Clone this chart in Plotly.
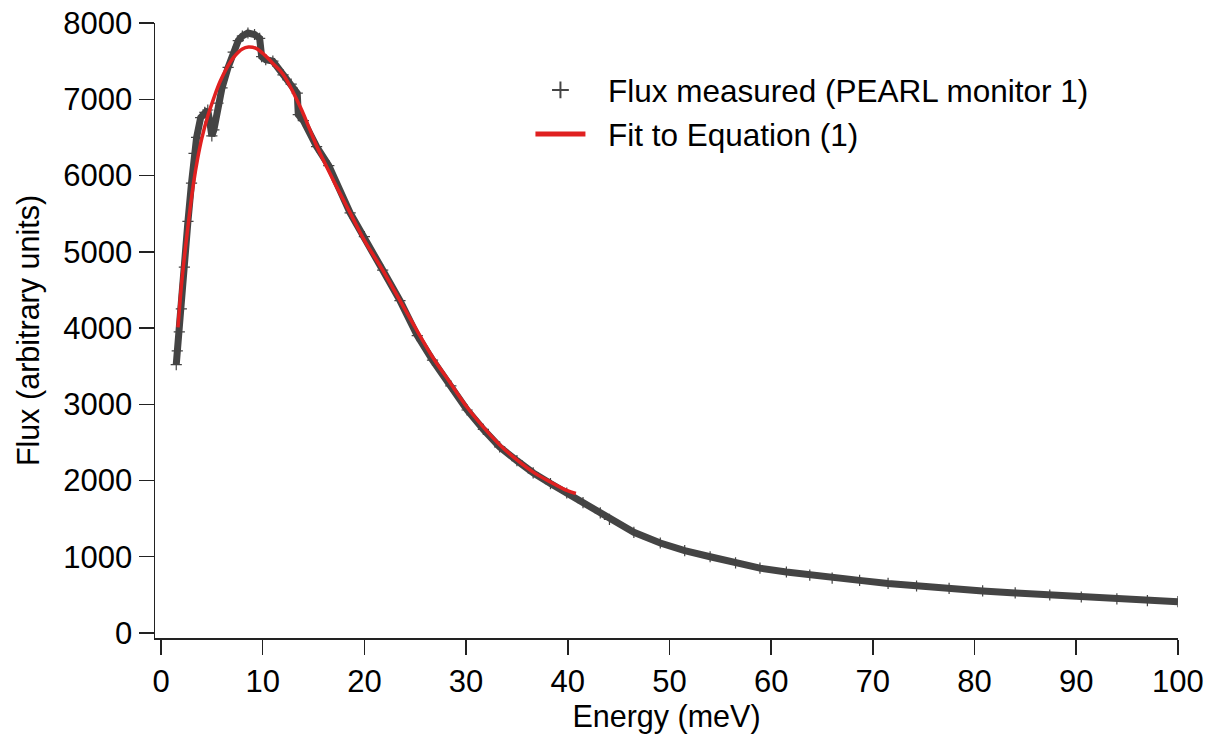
import plotly.graph_objects as go

# Measured flux (PEARL monitor 1)
energy_meas = [1.5, 1.6, 1.8, 2.0, 2.3, 2.65, 3.0, 3.25, 3.5, 3.9, 4.3, 4.6, 4.8, 5.0, 5.2,
               5.6, 6.0, 6.6, 7.1, 7.6, 8.0, 8.55, 9.2, 9.7, 9.9, 10.3, 11.0, 12.0, 12.8,
               13.4, 13.5, 14.0, 15.3, 16.5, 18.6, 20.0, 21.8, 23.5, 25.2, 26.7, 28.5,
               30.1, 31.7, 33.3, 35.0, 36.6, 38.3, 39.9, 41.5, 43.2, 44.1, 46.5, 49.1,
               51.5, 54.0, 56.5, 58.9, 61.5, 63.8, 66.0, 68.7, 71.5, 74.3, 77.5, 80.8,
               84.0, 87.4, 90.5, 94.0, 97.0, 100.0]
flux_meas = [3520, 3700, 3950, 4250, 4800, 5400, 5900, 6290, 6500, 6760, 6830, 6860, 6700,
             6520, 6600, 6950, 7150, 7420, 7620, 7770, 7830, 7870, 7850, 7800, 7560, 7520,
             7500, 7320, 7200, 7080, 6800, 6720, 6380, 6130, 5510, 5200, 4760, 4360, 3900,
             3580, 3240, 2925, 2670, 2440, 2260, 2100, 1960, 1836, 1710, 1574, 1490, 1320,
             1180, 1080, 1000, 920, 850, 800, 760, 720, 690, 650, 616, 585, 551, 525, 498,
             472, 446, 425, 410]

# Fit to Equation (1)
energy_fit = [1.67, 2.0, 2.4, 2.8, 3.2, 3.6, 4.0, 4.6, 5.2, 5.8, 6.5, 7.2, 8.0, 8.6, 9.3,
              10.2, 11.0, 12.0, 13.7, 15.3, 16.9, 18.6, 20.0, 21.8, 23.5, 25.2, 26.7,
              28.5, 30.1, 31.7, 33.3, 35.0, 36.6, 38.3, 39.9, 40.8]
flux_fit = [4010, 4550, 5050, 5500, 5900, 6220, 6480, 6780, 7020, 7230, 7420, 7560, 7660,
            7685, 7670, 7580, 7470, 7330, 6900, 6390, 5950, 5510, 5150, 4760, 4360, 3960,
            3620, 3270, 2960, 2700, 2470, 2270, 2110, 1980, 1870, 1830]

x_ticks = list(range(0, 101, 10))
y_ticks = list(range(0, 8001, 1000))

FONT = "Liberation Sans, Arial, Helvetica, sans-serif"
DATA_COLOR = "#444444"
FIT_COLOR = "#e02020"
NB = "\u00a0\u00a0"

fig = go.Figure()
fig.add_trace(go.Scatter(
    x=energy_meas, y=flux_meas, mode="lines",
    line=dict(color=DATA_COLOR, width=7), showlegend=False, hoverinfo="skip"))
fig.add_trace(go.Scatter(
    x=energy_meas, y=flux_meas, mode="markers",
    name=NB + "Flux measured (PEARL monitor 1)",
    marker=dict(symbol="cross-thin", size=8, color=DATA_COLOR,
                line=dict(color=DATA_COLOR, width=1.2))))
fig.add_trace(go.Scatter(
    x=energy_fit, y=flux_fit, mode="lines", line_shape="spline",
    name=NB + "Fit to Equation (1)",
    line=dict(color=FIT_COLOR, width=3.5)))

fig.update_layout(
    template="none",
    width=1215, height=738,
    margin=dict(l=155, r=37, t=23, b=100, autoexpand=False),
    paper_bgcolor="white", plot_bgcolor="white",
    font=dict(family=FONT, size=31, color="black"),
    legend=dict(x=0.367, y=0.935, xanchor="left", yanchor="top",
                bgcolor="rgba(0,0,0,0)", font=dict(size=31.5),
                itemwidth=50, itemsizing="constant", tracegroupgap=0),
    xaxis=dict(range=[-0.59, 100.01], tickvals=x_ticks, ticks="outside", ticklen=15,
               tickwidth=1.5, tickcolor="#222", showline=True, linecolor="#222",
               linewidth=1.5, showgrid=False, zeroline=False, automargin=False,
               tickfont=dict(size=31), ticklabeloverflow="allow",
               title=dict(text="Energy (meV)", standoff=7,
                          font=dict(size=30.5, family=FONT))),
    yaxis=dict(range=[-66, 8001], tickvals=y_ticks, ticks="outside", ticklen=15,
               tickwidth=1.5, tickcolor="#222", showline=True, linecolor="#222",
               linewidth=1.5, showgrid=False, zeroline=False, automargin=False,
               tickfont=dict(size=31), ticklabeloverflow="allow",
               title=dict(text="Flux (arbitrary units)", standoff=14,
                          font=dict(size=30.5, family=FONT))),
)

fig.write_html("out.html",
               config={"displayModeBar": False, "staticPlot": True},
               post_script="document.body.style.margin='0';document.body.style.padding='0';")
